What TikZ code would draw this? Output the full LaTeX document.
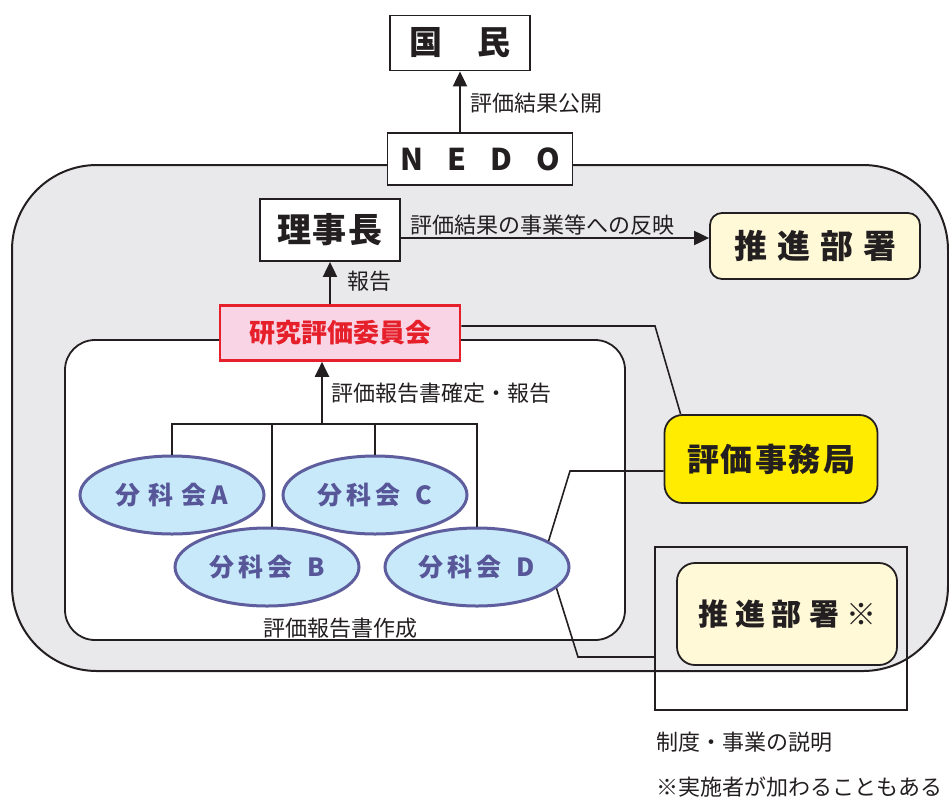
\documentclass[tikz,border=0pt]{standalone}
\usepackage{fontspec}
\setmainfont{Noto Sans CJK JP}
\usetikzlibrary{arrows.meta,shapes.geometric}
\definecolor{bggray}{RGB}{233,233,236}
\definecolor{pinkfill}{RGB}{249,212,228}
\definecolor{redline}{RGB}{230,32,42}
\definecolor{yel}{RGB}{255,236,0}
\definecolor{lyel}{RGB}{255,249,216}
\definecolor{lblue}{RGB}{200,233,249}
\definecolor{purp}{RGB}{94,94,158}
\definecolor{purptext}{RGB}{86,86,152}
\definecolor{ink}{RGB}{35,31,32}
\tikzset{
  box/.style={draw=ink, line width=1.8pt, fill=white, inner sep=0pt, text=ink},
  rbox/.style={box, rounded corners=16pt},
  lbl/.style={font=\fontsize{22}{22}\selectfont, text=ink, inner sep=0pt},
  arr/.style={draw=ink, line width=2pt, -{Triangle[length=15pt,width=14pt]}},
  conn/.style={draw=ink, line width=1.6pt},
  bunka/.style={ellipse, draw=purp, line width=3pt, fill=lblue, inner sep=0pt,
    minimum width=184pt, minimum height=78pt, text=purptext,
    font=\fontsize{25}{25}\selectfont\bfseries},
}
\begin{document}
\begin{tikzpicture}[x=1pt,y=-1pt]
\useasboundingbox (0,0) rectangle (949,801);
% background areas
\draw[draw=ink, line width=2pt, fill=bggray, rounded corners=85pt] (12,165) rectangle (948,671);
\draw[draw=ink, line width=1.8pt, fill=white, rounded corners=30pt] (65,340) rectangle (625,640);

% nodes
\node[box, minimum width=140pt, minimum height=55pt, font=\fontsize{33}{33}\selectfont\bfseries] (kokumin) at (460,43) {国\hspace{36pt}民};
\node[box, minimum width=185pt, minimum height=52pt, font=\fontsize{30}{30}\selectfont\bfseries] (nedo) at (480,159) {N\hspace{24pt}E\hspace{24pt}D\hspace{24pt}O};
\node[box, minimum width=140pt, minimum height=62pt, font=\fontsize{34}{34}\selectfont\bfseries] (rijicho) at (330,230) {理\hspace{2pt}事\hspace{2pt}長};
\node[rbox, fill=lyel, rounded corners=12pt, minimum width=210pt, minimum height=66pt, font=\fontsize{33}{33}\selectfont\bfseries] (suishin) at (815,246) {推\hspace{10pt}進\hspace{10pt}部\hspace{10pt}署};
\node[box, draw=redline, line width=2.6pt, fill=pinkfill, text=redline, minimum width=240pt, minimum height=55pt, font=\fontsize{26}{26}\selectfont\bfseries] (kenkyu) at (340,333) {\raisebox{-4pt}{研究評価委員会}\hspace{16pt}};
\node[rbox, fill=yel, rounded corners=18pt, minimum width=213pt, minimum height=88pt, font=\fontsize{32}{32}\selectfont\bfseries] (jimu) at (771,459) {評\hspace{2pt}価\hspace{2pt}事\hspace{2pt}務\hspace{2pt}局};
\node[draw=ink, line width=1.8pt, inner sep=0pt, minimum width=252pt, minimum height=163pt] (obox) at (781,628.5) {};
\node[rbox, fill=lyel, rounded corners=18pt, minimum width=220pt, minimum height=102pt, font=\fontsize{30}{30}\selectfont\bfseries] (suishin2) at (787,614) {推\hspace{7pt}進\hspace{7pt}部\hspace{7pt}署\hspace{7pt}※};

\node[bunka] (A) at (172,495) {分\hspace{8pt}科\hspace{8pt}会\hspace{5pt}A};
\node[bunka] (C) at (375,495) {分\hspace{4pt}科\hspace{4pt}会\hspace{15pt}C};
\node[bunka] (B) at (267,567) {分\hspace{4pt}科\hspace{4pt}会\hspace{15pt}B};
\node[bunka] (D) at (477,567) {分\hspace{4pt}科\hspace{4pt}会\hspace{15pt}D};

% connectors
\draw[arr] (kokumin.south |- nedo.north) -- (kokumin.south);
\draw[arr] ([yshift=-8pt]rijicho.east) -- ([yshift=-8pt]rijicho.east -| suishin.west);
\draw[arr] (rijicho.south |- kenkyu.north) -- (rijicho.south);

\coordinate (t0) at (322,424);
\draw[conn] (A.north) -- (A.north |- t0) -- (D.north |- t0) -- (D.north);
\draw[conn] ([xshift=5pt]B.north) -- ([xshift=5pt]B.north |- t0);
\draw[conn] (C.north) -- (C.north |- t0);
\draw[arr] (t0) -- (t0 |- kenkyu.south);

\coordinate (k1) at (655,326);
\draw[conn] ([yshift=7pt]kenkyu.east) -- (k1) -- ([xshift=17pt]jimu.north west);
\coordinate (j1) at (570,471);
\draw[conn] ([yshift=-12pt]jimu.west) -- (j1) -- (D.20);
\coordinate (d1) at (578,657);
\draw[conn] (D.-15) -- (d1) -- (d1 -| obox.west);

% labels
\node[lbl, anchor=west] (l1) at (470,103) {評価結果公開};
\node[lbl, anchor=west] (l2) at (410,225) {評価結果の事業等への反映};
\node[lbl, anchor=west] (l3) at (347,281) {報告};
\node[lbl, anchor=west] (l4) at (331,393) {評価報告書確定・報告};
\node[lbl] (l5) at (340,628) {評価報告書作成};
\node[lbl, anchor=west] (l6) at (656,742) {制度・事業の説明};
\node[lbl, anchor=west] (l7) at (656,787) {※実施者が加わることもある};
\end{tikzpicture}
\end{document}
